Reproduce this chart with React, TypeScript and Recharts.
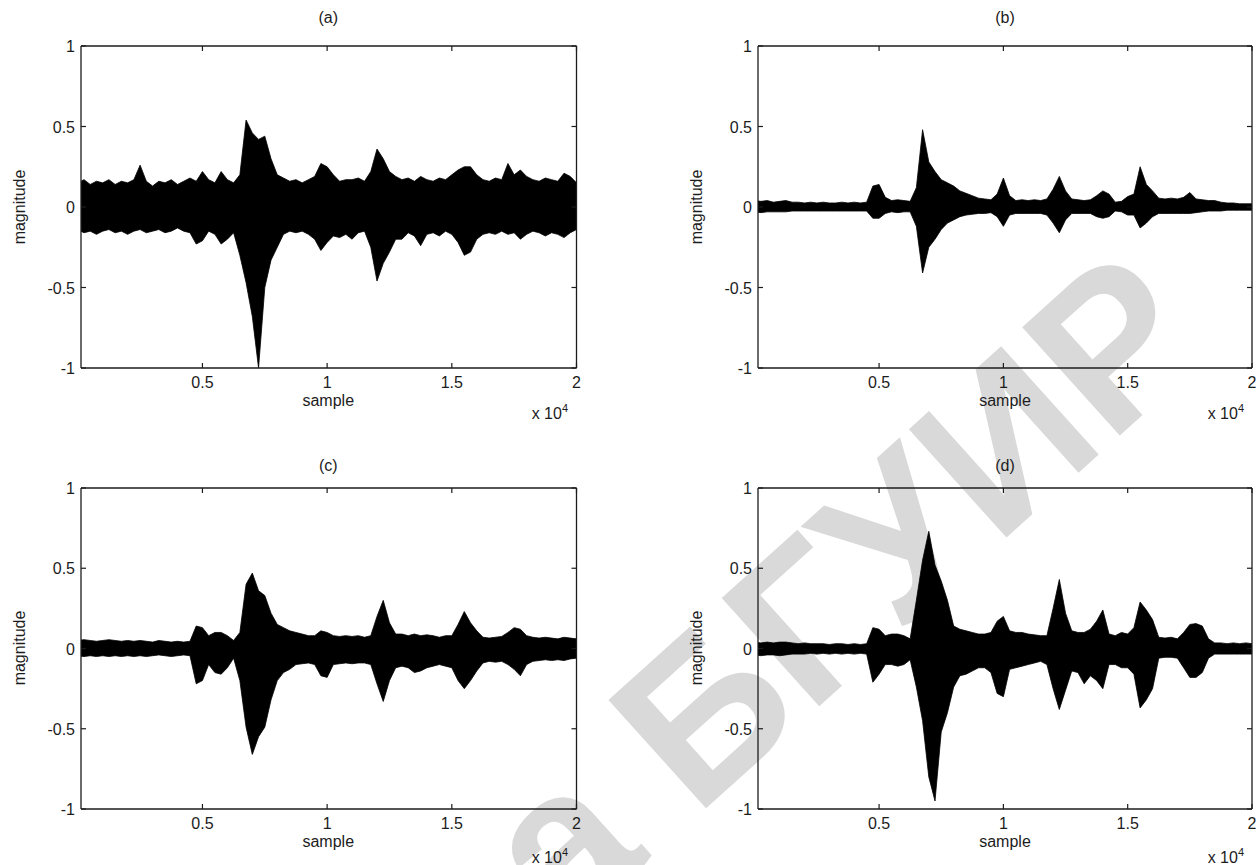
import React from 'react';
import { ComposedChart, Area, XAxis, YAxis } from 'recharts';

// sample index (x) of every envelope point
const SAMPLES = [
    0, 250, 500, 750, 1000, 1250, 1500, 1750, 2000, 2250,
    2500, 2750, 3000, 3250, 3500, 3750, 4000, 4250, 4500, 4750,
    5000, 5250, 5500, 5750, 6000, 6250, 6500, 6750, 7000, 7250,
    7500, 7750, 8000, 8250, 8500, 8750, 9000, 9250, 9500, 9750,
    10000, 10250, 10500, 10750, 11000, 11250, 11500, 11750, 12000, 12250,
    12500, 12750, 13000, 13250, 13500, 13750, 14000, 14250, 14500, 14750,
    15000, 15250, 15500, 15750, 16000, 16250, 16500, 16750, 17000, 17250,
    17500, 17750, 18000, 18250, 18500, 18750, 19000, 19250, 19500, 19750,
    20000,
];

// (a) upper / lower envelope of the waveform
const A_HI = [
    0.15, 0.17, 0.14, 0.16, 0.15, 0.17, 0.14, 0.16, 0.15, 0.17,
    0.26, 0.16, 0.13, 0.16, 0.15, 0.17, 0.14, 0.16, 0.18, 0.16,
    0.22, 0.17, 0.15, 0.22, 0.17, 0.15, 0.2, 0.54, 0.46, 0.42,
    0.44, 0.3, 0.2, 0.18, 0.16, 0.17, 0.15, 0.17, 0.19, 0.27,
    0.25, 0.2, 0.16, 0.17, 0.17, 0.18, 0.16, 0.22, 0.36, 0.3,
    0.22, 0.19, 0.17, 0.18, 0.16, 0.19, 0.17, 0.16, 0.18, 0.17,
    0.2, 0.23, 0.25, 0.25, 0.2, 0.17, 0.16, 0.18, 0.17, 0.27,
    0.2, 0.23, 0.19, 0.17, 0.16, 0.18, 0.17, 0.16, 0.21, 0.19,
    0.15,
];
const A_LO = [
    -0.14, -0.16, -0.15, -0.17, -0.15, -0.14, -0.16, -0.15, -0.17, -0.15,
    -0.14, -0.16, -0.15, -0.14, -0.16, -0.15, -0.13, -0.15, -0.16, -0.23,
    -0.21, -0.15, -0.17, -0.23, -0.2, -0.16, -0.3, -0.47, -0.68, -1.0,
    -0.5, -0.33, -0.25, -0.17, -0.15, -0.16, -0.15, -0.17, -0.2, -0.27,
    -0.22, -0.18, -0.19, -0.17, -0.2, -0.16, -0.15, -0.25, -0.46, -0.35,
    -0.28, -0.2, -0.2, -0.16, -0.18, -0.24, -0.17, -0.16, -0.18, -0.15,
    -0.17, -0.22, -0.3, -0.28, -0.2, -0.17, -0.16, -0.17, -0.15, -0.17,
    -0.16, -0.2, -0.17, -0.15, -0.16, -0.18, -0.16, -0.17, -0.19, -0.16,
    -0.14,
];

// (b)
const B_HI = [
    0.04, 0.035, 0.04, 0.03, 0.035, 0.04, 0.03, 0.03, 0.025, 0.03,
    0.025, 0.03, 0.025, 0.025, 0.03, 0.025, 0.03, 0.025, 0.03, 0.13,
    0.14, 0.06, 0.04, 0.045, 0.04, 0.035, 0.12, 0.48, 0.28, 0.22,
    0.17, 0.15, 0.13, 0.1, 0.085, 0.07, 0.055, 0.05, 0.045, 0.08,
    0.18, 0.07, 0.04, 0.045, 0.04, 0.045, 0.04, 0.05, 0.11, 0.19,
    0.1, 0.05, 0.045, 0.04, 0.045, 0.07, 0.1, 0.08, 0.03, 0.035,
    0.065, 0.08, 0.25, 0.14, 0.1, 0.055, 0.05, 0.055, 0.05, 0.06,
    0.09, 0.05, 0.045, 0.04, 0.04, 0.03, 0.025, 0.025, 0.02, 0.02,
    0.02,
];
const B_LO = [
    -0.03, -0.035, -0.03, -0.03, -0.03, -0.03, -0.025, -0.025, -0.025, -0.025,
    -0.025, -0.025, -0.025, -0.025, -0.025, -0.025, -0.025, -0.025, -0.025, -0.07,
    -0.07, -0.04, -0.03, -0.035, -0.03, -0.03, -0.12, -0.41, -0.25, -0.2,
    -0.14, -0.1, -0.08, -0.06, -0.05, -0.045, -0.04, -0.04, -0.035, -0.06,
    -0.12, -0.05, -0.04, -0.04, -0.04, -0.04, -0.04, -0.05, -0.1, -0.16,
    -0.08, -0.04, -0.04, -0.04, -0.04, -0.06, -0.07, -0.06, -0.025, -0.03,
    -0.05, -0.05, -0.13, -0.1, -0.06, -0.04, -0.04, -0.04, -0.04, -0.04,
    -0.04, -0.035, -0.03, -0.025, -0.025, -0.025, -0.02, -0.02, -0.02, -0.02,
    -0.02,
];

// (c)
const C_HI = [
    0.05, 0.055, 0.05, 0.045, 0.05, 0.055, 0.05, 0.045, 0.05, 0.045,
    0.05, 0.045, 0.04, 0.05, 0.045, 0.04, 0.045, 0.04, 0.045, 0.14,
    0.13, 0.08, 0.1, 0.1, 0.08, 0.05, 0.1, 0.4, 0.47, 0.36,
    0.33, 0.22, 0.15, 0.13, 0.11, 0.1, 0.09, 0.08, 0.08, 0.11,
    0.1, 0.08, 0.075, 0.08, 0.075, 0.08, 0.07, 0.08, 0.2, 0.3,
    0.16, 0.09, 0.09, 0.08, 0.09, 0.08, 0.085, 0.08, 0.07, 0.08,
    0.08, 0.15, 0.23, 0.16, 0.11, 0.07, 0.065, 0.07, 0.075, 0.1,
    0.13, 0.12, 0.08, 0.07, 0.065, 0.07, 0.065, 0.06, 0.07, 0.065,
    0.06,
];
const C_LO = [
    -0.045, -0.05, -0.045, -0.05, -0.045, -0.05, -0.045, -0.05, -0.045, -0.05,
    -0.045, -0.05, -0.045, -0.04, -0.045, -0.05, -0.045, -0.04, -0.045, -0.22,
    -0.2, -0.1, -0.15, -0.16, -0.12, -0.06, -0.2, -0.49, -0.66, -0.55,
    -0.49, -0.32, -0.2, -0.15, -0.13, -0.1, -0.095, -0.09, -0.1, -0.17,
    -0.18, -0.1, -0.095, -0.09, -0.095, -0.09, -0.09, -0.1, -0.22, -0.33,
    -0.2, -0.12, -0.11, -0.12, -0.15, -0.14, -0.12, -0.11, -0.1, -0.11,
    -0.12, -0.2, -0.25, -0.2, -0.14, -0.09, -0.08, -0.085, -0.08, -0.1,
    -0.13, -0.17, -0.1, -0.08, -0.075, -0.07, -0.075, -0.07, -0.075, -0.065,
    -0.06,
];

// (d)
const D_HI = [
    0.04, 0.035, 0.04, 0.035, 0.04, 0.04, 0.035, 0.03, 0.035, 0.03,
    0.03, 0.03, 0.025, 0.03, 0.03, 0.025, 0.03, 0.025, 0.03, 0.13,
    0.12, 0.08, 0.09, 0.09, 0.08, 0.06, 0.3, 0.55, 0.73, 0.52,
    0.42, 0.3, 0.14, 0.12, 0.11, 0.1, 0.09, 0.09, 0.1, 0.17,
    0.2, 0.11, 0.1, 0.1, 0.09, 0.085, 0.08, 0.08, 0.25, 0.43,
    0.22, 0.11, 0.1, 0.1, 0.12, 0.17, 0.24, 0.09, 0.08, 0.1,
    0.09, 0.13, 0.29, 0.24, 0.18, 0.07, 0.065, 0.07, 0.06, 0.1,
    0.15, 0.155, 0.14, 0.06, 0.035, 0.035, 0.03, 0.035, 0.03, 0.035,
    0.03,
];
const D_LO = [
    -0.04, -0.045, -0.04, -0.04, -0.045, -0.04, -0.035, -0.035, -0.035, -0.03,
    -0.035, -0.03, -0.035, -0.03, -0.035, -0.03, -0.035, -0.03, -0.035, -0.21,
    -0.16, -0.1, -0.1, -0.11, -0.1, -0.07, -0.24, -0.45, -0.8, -0.95,
    -0.52, -0.4, -0.24, -0.17, -0.16, -0.14, -0.12, -0.12, -0.15, -0.28,
    -0.3, -0.13, -0.12, -0.11, -0.1, -0.09, -0.08, -0.1, -0.25, -0.38,
    -0.26, -0.14, -0.15, -0.22, -0.17, -0.2, -0.25, -0.1, -0.1, -0.12,
    -0.12, -0.16, -0.37, -0.32, -0.25, -0.06, -0.055, -0.055, -0.06, -0.12,
    -0.18, -0.18, -0.15, -0.06, -0.035, -0.035, -0.035, -0.035, -0.035, -0.035,
    -0.035,
];

const X_TICKS = [5000, 10000, 15000, 20000];
const X_TICK_LABELS = ['0.5', '1', '1.5', '2'];
const Y_TICKS = [-1, -0.5, 0, 0.5, 1];
const Y_TICK_LABELS = ['-1', '-0.5', '0', '0.5', '1'];
const TITLES = ['(a)', '(b)', '(c)', '(d)'];

const INK = '#1c1c1c';
const FONT = '"Liberation Sans", Arial, Helvetica, sans-serif';
const FS = 16;
const TICK = 5;

// plot boxes in page pixels
const LAYOUT = [
    { px: 80.5, py: 46, pw: 495.5, ph: 322, titleY: 18, sampleY: 401, expY: 414, magX: 20 },
    { px: 758, py: 46, pw: 494, ph: 322, titleY: 18, sampleY: 401, expY: 414, magX: 697 },
    { px: 80.5, py: 487.5, pw: 495.5, ph: 321, titleY: 466, sampleY: 842, expY: 858, magX: 20 },
    { px: 758, py: 487.5, pw: 494, ph: 321, titleY: 466, sampleY: 842, expY: 858, magX: 697 },
];

const SERIES = [
    [A_LO, A_HI],
    [B_LO, B_HI],
    [C_LO, C_HI],
    [D_LO, D_HI],
];

const BottomTick = (p: any) => {
    const i = X_TICKS.indexOf(p.payload.value);
    return (
        <g>
            <line x1={p.x} y1={p.y} x2={p.x} y2={p.y - TICK} stroke={INK} strokeWidth={1.2} />
            <text x={p.x} y={p.y + 20} textAnchor="middle" fontSize={FS} fontFamily={FONT} fill={INK}>
                {X_TICK_LABELS[i]}
            </text>
        </g>
    );
};

const TopTick = (p: any) => (
    <line x1={p.x} y1={p.y} x2={p.x} y2={p.y + TICK} stroke={INK} strokeWidth={1.2} />
);

const LeftTick = (p: any) => {
    const i = Y_TICKS.indexOf(p.payload.value);
    return (
        <g>
            <line x1={p.x} y1={p.y} x2={p.x + TICK} y2={p.y} stroke={INK} strokeWidth={1.2} />
            <text x={p.x - 6} y={p.y + 6} textAnchor="end" fontSize={FS} fontFamily={FONT} fill={INK}>
                {Y_TICK_LABELS[i]}
            </text>
        </g>
    );
};

const RightTick = (p: any) => (
    <line x1={p.x} y1={p.y} x2={p.x - TICK} y2={p.y} stroke={INK} strokeWidth={1.2} />
);

const axisLine = { stroke: INK, strokeWidth: 1.3 };

function Panel({ idx }: { idx: number }) {
    const { px, py, pw, ph, titleY, sampleY, expY, magX } = LAYOUT[idx];
    const [lo, hi] = SERIES[idx];
    const data = SAMPLES.map((s, i) => ({ s, band: [lo[i], hi[i]] }));
    // margins; every axis takes 1px so the axes are still drawn
    const L = 40, R = 10, T = 10, B = 30;
    const label: React.CSSProperties = {
        position: 'absolute',
        fontFamily: FONT,
        fontSize: FS,
        color: INK,
        whiteSpace: 'nowrap',
        lineHeight: 1,
    };

    return (
        <>
            <div style={{ position: 'absolute', left: px - L - 1, top: py - T - 1 }}>
                <ComposedChart
                    width={pw + L + R + 2}
                    height={ph + T + B + 2}
                    data={data}
                    margin={{ top: T, right: R, bottom: B, left: L }}
                    style={{ overflow: 'visible' }}
                >
                    <XAxis
                        xAxisId="x"
                        dataKey="s"
                        type="number"
                        domain={[130, 20000]}
                        allowDataOverflow
                        ticks={X_TICKS}
                        interval={0}
                        height={1}
                        tickSize={0}
                        tickMargin={0}
                        tickLine={false}
                        axisLine={axisLine}
                        tick={<BottomTick />}
                    />
                    <XAxis
                        xAxisId="top"
                        orientation="top"
                        dataKey="s"
                        type="number"
                        domain={[130, 20000]}
                        allowDataOverflow
                        ticks={X_TICKS}
                        interval={0}
                        height={1}
                        tickSize={0}
                        tickMargin={0}
                        tickLine={false}
                        axisLine={axisLine}
                        tick={<TopTick />}
                    />
                    <YAxis
                        yAxisId="l"
                        type="number"
                        domain={[-1, 1]}
                        allowDataOverflow
                        ticks={Y_TICKS}
                        interval={0}
                        width={1}
                        tickSize={0}
                        tickMargin={0}
                        tickLine={false}
                        axisLine={axisLine}
                        tick={<LeftTick />}
                    />
                    <YAxis
                        yAxisId="r"
                        orientation="right"
                        type="number"
                        domain={[-1, 1]}
                        allowDataOverflow
                        ticks={Y_TICKS}
                        interval={0}
                        width={1}
                        tickSize={0}
                        tickMargin={0}
                        tickLine={false}
                        axisLine={axisLine}
                        tick={<RightTick />}
                    />
                    <Area
                        xAxisId="x"
                        yAxisId="l"
                        dataKey="band"
                        type="linear"
                        stroke="#000"
                        strokeWidth={0.8}
                        fill="#000"
                        fillOpacity={1}
                        dot={false}
                        activeDot={false}
                        isAnimationActive={false}
                    />
                </ComposedChart>
            </div>

            <div style={{ ...label, left: px + pw / 2, top: titleY, transform: 'translate(-50%, -50%)' }}>
                {TITLES[idx]}
            </div>
            <div style={{ ...label, left: px + pw / 2, top: sampleY, transform: 'translate(-50%, -50%)' }}>
                sample
            </div>
            <div style={{ ...label, left: px + pw - 8, top: expY, transform: 'translate(-100%, -50%)' }}>
                x 10<span style={{ fontSize: 11, position: 'relative', top: -7 }}>4</span>
            </div>
            <div
                style={{
                    ...label,
                    left: magX,
                    top: py + ph / 2,
                    transform: 'translate(-50%, -50%) rotate(-90deg)',
                }}
            >
                magnitude
            </div>
        </>
    );
}

export default function App() {
    return (
        <div style={{ position: 'absolute', left: 0, top: 0, width: 1258, height: 865, background: '#fff', overflow: 'hidden' }}>
            {/* faint library watermark behind the plots */}
            <svg width={1258} height={865} style={{ position: 'absolute', left: 0, top: 0 }}>
                <text
                    x={564}
                    y={936}
                    textAnchor="start"
                    fontSize={212}
                    fontWeight="bold"
                    fontFamily={FONT}
                    fill="#d9d9d9"
                    transform="rotate(-42 564 936)"
                >
                    а БГУИР
                </text>
            </svg>
            {TITLES.map((_, i) => (
                <Panel key={i} idx={i} />
            ))}
        </div>
    );
}
